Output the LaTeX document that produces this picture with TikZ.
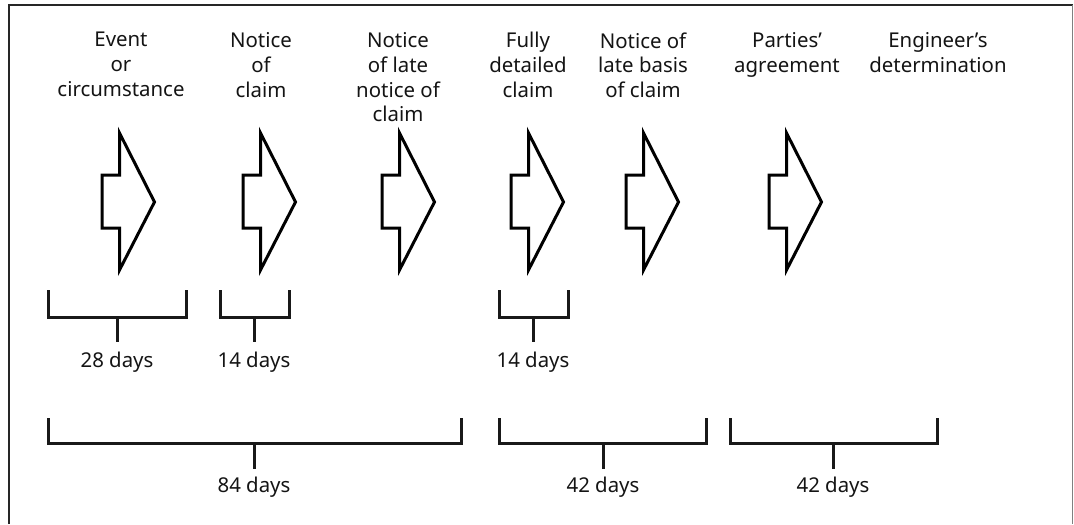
\documentclass[tikz,border=0pt]{standalone}
\usepackage{fontspec}
\setmainfont{Noto Sans}
\usepackage{tikz}

\begin{document}
\begin{tikzpicture}[x=0.5pt,y=-0.5pt]
\tikzstyle{caption} = [align=center, anchor=north, inner sep=0pt, text=black!92, font=\fontsize{10.2}{12.4}\selectfont]
\tikzstyle{period} = [anchor=base, inner sep=0pt, text=black!92, font=\fontsize{10.2}{12.4}\selectfont]
\tikzstyle{block} = [draw=black, line width=1.5pt, line join=miter]
\tikzstyle{brace} = [draw=black!90, line width=1.5pt, line join=miter]

\useasboundingbox (0,0) rectangle (1074,524);
\draw[line width=1pt, black!85] (8.7,524) -- (8.7,5) -- (1073,5);
\draw[line width=0.5pt, black!50] (1072.7,5) -- (1072.7,524);

% stages
\node[caption] (event) at (121,32) {Event\\or\\circumstance};
\node[caption] (notice) at (261,32) {Notice\\of\\claim};
\node[caption] (latenotice) at (398,32) {Notice\\of late\\notice of\\claim};
\node[caption] (detailed) at (528,32) {Fully\\detailed\\claim};
\node[caption] (latebasis) at (643,32) {Notice of\\late basis\\of claim};
\node[caption] (agreement) at (787,32) {Parties’\\agreement};
\node[caption] (determination) at (938,32) {Engineer’s\\determination};

\draw[block] (102,175) -- (119.5,175) -- (119.5,133) -- (154.5,202) -- (119.5,270) -- (119.5,228) -- (102,228) -- cycle;
\draw[block] (243,175) -- (260.5,175) -- (260.5,133) -- (295.5,202) -- (260.5,270) -- (260.5,228) -- (243,228) -- cycle;
\draw[block] (382,175) -- (399.5,175) -- (399.5,133) -- (434.5,202) -- (399.5,270) -- (399.5,228) -- (382,228) -- cycle;
\draw[block] (511,175) -- (528.5,175) -- (528.5,133) -- (563.5,202) -- (528.5,270) -- (528.5,228) -- (511,228) -- cycle;
\draw[block] (626,175) -- (643.5,175) -- (643.5,133) -- (678.5,202) -- (643.5,270) -- (643.5,228) -- (626,228) -- cycle;
\draw[block] (769,175) -- (786.5,175) -- (786.5,133) -- (821.5,202) -- (786.5,270) -- (786.5,228) -- (769,228) -- cycle;

% time limits
\draw[brace] (48,290) -- (48,317) -- (186,317) -- (186,290) (117,317) -- (117,342);
\draw[brace] (220,290) -- (220,317) -- (289,317) -- (289,290) (254,317) -- (254,342);
\draw[brace] (499,290) -- (499,317) -- (568,317) -- (568,290) (533,317) -- (533,342);
\node[period] (d28) at (117,367) {28 days};
\node[period] (d14a) at (254,367) {14 days};
\node[period] (d14b) at (533,367) {14 days};

\draw[brace] (48,418) -- (48,443) -- (461,443) -- (461,418) (254,443) -- (254,469);
\draw[brace] (499,418) -- (499,443) -- (706,443) -- (706,418) (603,443) -- (603,469);
\draw[brace] (730,418) -- (730,443) -- (937,443) -- (937,418) (833,443) -- (833,469);
\node[period] (d84) at (254,492) {84 days};
\node[period] (d42a) at (603,492) {42 days};
\node[period] (d42b) at (833,492) {42 days};
\end{tikzpicture}
\end{document}
